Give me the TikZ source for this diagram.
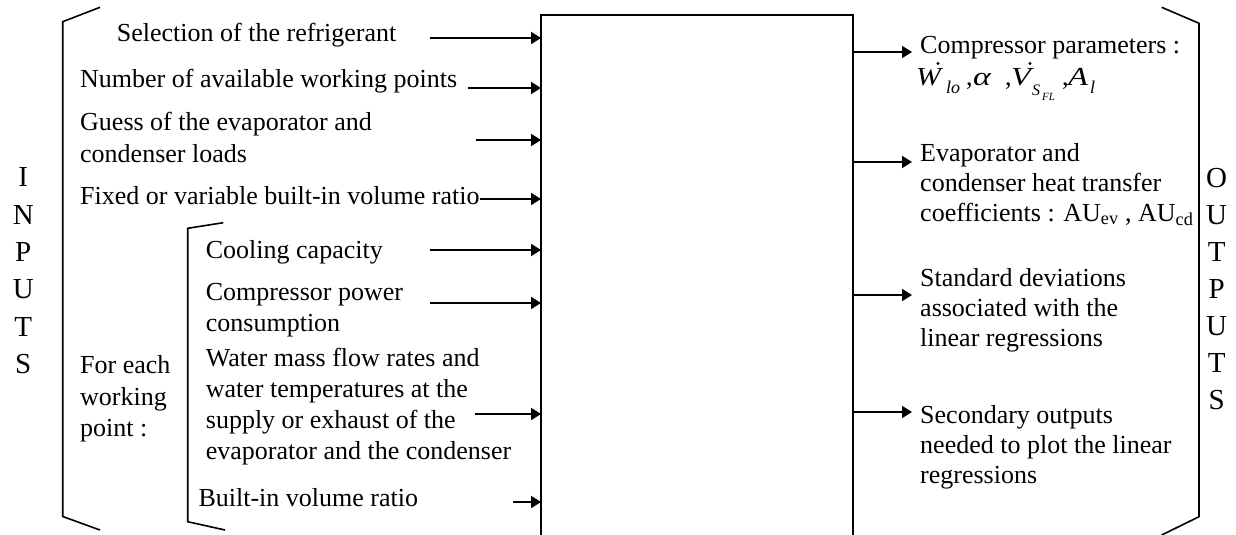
\documentclass[tikz,border=0pt]{standalone}
\usepackage{fontspec}
\setmainfont{Liberation Serif}
\usetikzlibrary{arrows.meta}
% place #2 at horizontal offset #1 without taking width
\newcommand\putat[2]{\rlap{\hspace*{#1}#2}}
\newcommand\lowsub[2]{\raisebox{-#1}{\fontsize{18}{18}\selectfont\itshape #2}}
\newcommand\lowsubS[1]{\raisebox{-10pt}{\fontsize{16}{16}\selectfont\itshape #1}}
\newcommand\lowsubsub[1]{\raisebox{-15pt}{\fontsize{11}{11}\selectfont\itshape #1}}
\tikzset{
  txt/.style={anchor=base west, inner sep=0pt, font=\fontsize{26}{31}\selectfont},
  big/.style={anchor=base, inner sep=0pt, font=\fontsize{29}{34}\selectfont},
  formula/.style={anchor=base west, inner sep=0pt, font=\fontsize{26}{30}\selectfont},
  boxln/.style={line width=2pt},
  arr/.style={line width=2pt, -{Triangle[length=10pt,width=12pt]}},
  brk/.style={line width=1.6pt},
  accent/.style={fill=black}
}
\begin{document}
\begin{tikzpicture}[x=1pt,y=-1pt]
\useasboundingbox (0,0) rectangle (1236,535);
\fill[white] (0,0) rectangle (1236,535);
% central box (open at the bottom)
\coordinate (bxbl) at (541,536);
\coordinate (bxtl) at (541,15);
\coordinate (bxtr) at (853,15);
\coordinate (bxbr) at (853,536);
\draw[boxln] (bxbl) -- (bxtl) -- (bxtr) -- (bxbr);
% brackets
\draw[brk] (100,7.3) -- (62.7,21.7) -- (62.7,516.5) -- (100,530);
\draw[brk] (223.3,222.7) -- (187.7,228.3) -- (187.7,521.7) -- (225,530);
\draw[brk] (1161.7,7.3) -- (1199,23.3) -- (1199,516.7) -- (1161.7,535);
% INPUTS / OUTPUTS
\node[big] (lI) at (23.3,186.7) {I};
\node[big] (lN) at (23.3,224) {N};
\node[big] (lP) at (23.3,261.3) {P};
\node[big] (lU) at (23.3,298.7) {U};
\node[big] (lT) at (23.3,336) {T};
\node[big] (lS) at (23.3,373.3) {S};
\node[big] (rO) at (1216.7,187.5) {O};
\node[big] (rU) at (1216.7,224.5) {U};
\node[big] (rT) at (1216.7,261.5) {T};
\node[big] (rP) at (1216.7,298.5) {P};
\node[big] (rU2) at (1216.7,335.5) {U};
\node[big] (rT2) at (1216.7,372.5) {T};
\node[big] (rS) at (1216.7,409.5) {S};
% input texts
\node[txt] (t1) at (116.7,41.7) {Selection of the refrigerant};
\node[txt] (t2) at (80,87.5) {Number of available working points};
\node[txt] (t3a) at (80,130.7) {Guess of the evaporator and};
\node[txt] (t3b) at (80,162) {condenser loads};
\node[txt] (t4) at (80,204.5) {Fixed or variable built-in volume ratio};
\node[txt] (t5) at (205.7,258.3) {Cooling capacity};
\node[txt] (t6a) at (205.7,300.7) {Compressor power};
\node[txt] (t6b) at (205.7,331.7) {consumption};
\node[txt] (t7a) at (205.7,366.7) {Water mass flow rates and};
\node[txt] (t7b) at (205.7,397.7) {water temperatures at the};
\node[txt] (t7c) at (205.7,428.3) {supply or exhaust of the};
\node[txt] (t7d) at (205.7,459.3) {evaporator and the condenser};
\node[txt] (t8) at (198.3,506.7) {Built-in volume ratio};
\node[txt] (w1) at (80,373.3) {For each};
\node[txt] (w2) at (80,405) {working};
\node[txt] (w3) at (80,436) {point :};
% output texts
\node[txt] (o1a) at (920,54) {Compressor parameters :};
\node[formula] (o1b) at (916,85) {%
  \putat{0pt}{\scalebox{1.15}[1]{\textit{W}}}%
  \putat{30pt}{\lowsub{8pt}{lo}}%
  \putat{50pt}{,}%
  \putat{57pt}{\scalebox{1.3}[1]{\textit{α}}}%
  \putat{89pt}{,}%
  \putat{95pt}{\scalebox{1.25}[1]{\textit{V}}}%
  \putat{116pt}{\lowsubS{S}}%
  \putat{126pt}{\lowsubsub{FL}}%
  \putat{146pt}{,}%
  \putat{152pt}{\scalebox{1.25}[1]{\textit{A}}}%
  \putat{174pt}{\lowsub{8pt}{l}}%
  \hspace*{182pt}};
% dot accents over W and V
\fill[accent] (938,63.5) circle (1.7);
\fill[accent] (1030,63.5) circle (1.7);
\node[txt] (o2a) at (920,161) {Evaporator and};
\node[txt] (o2b) at (920,191) {condenser heat transfer};
\node[txt] (o2c) at (920,221) {coefficients : AU\textsubscript{ev} , AU\textsubscript{cd}};
\node[txt] (o3a) at (920,286) {Standard deviations};
\node[txt] (o3b) at (920,316) {associated with the};
\node[txt] (o3c) at (920,346) {linear regressions};
\node[txt] (o4a) at (920,423) {Secondary outputs};
\node[txt] (o4b) at (920,453) {needed to plot the linear};
\node[txt] (o4c) at (920,483) {regressions};
% input arrows
\coordinate (a1) at (430,38);
\coordinate (a2) at (468,88);
\coordinate (a3) at (476,140);
\coordinate (a4) at (480,199);
\coordinate (a5) at (430,250);
\coordinate (a6) at (430,303);
\coordinate (a7) at (475,414);
\coordinate (a8) at (513,502);
\foreach \c in {a1,a2,a3,a4,a5,a6,a7,a8}
  \draw[arr] (\c) -- (\c -| bxtl);
% output arrows
\coordinate (b1) at (912,52);
\coordinate (b2) at (912,162);
\coordinate (b3) at (912,295);
\coordinate (b4) at (912,412);
\foreach \c in {b1,b2,b3,b4}
  \draw[arr] (\c -| bxtr) -- (\c);
\end{tikzpicture}
\end{document}
